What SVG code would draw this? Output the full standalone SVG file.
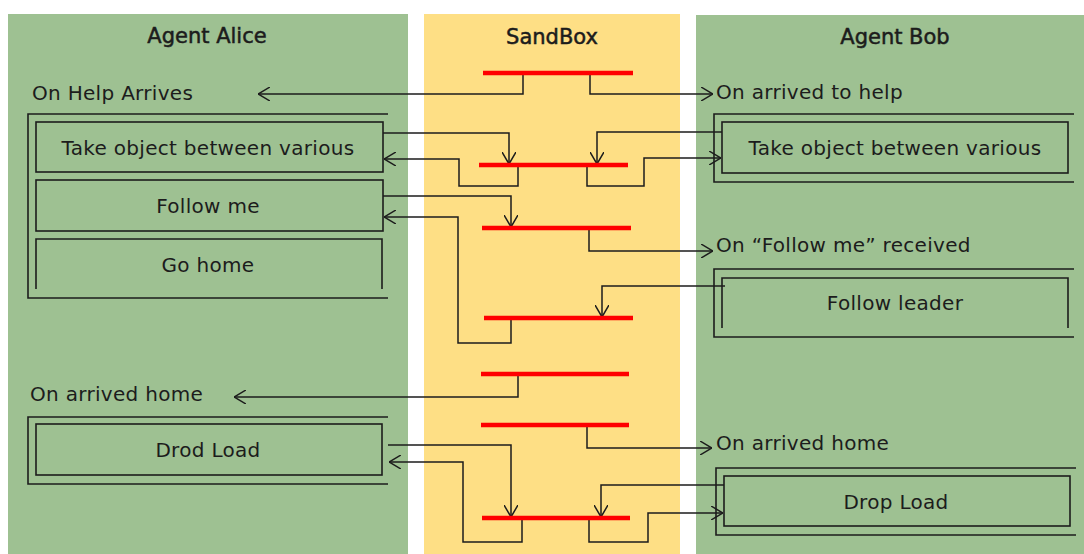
<svg xmlns="http://www.w3.org/2000/svg" width="1084" height="554" viewBox="0 0 1084 554">
<defs>
<style>
.lane{fill:#9ec192}
.sand{fill:#fedf85}
.title{font-family:"DejaVu Sans","Liberation Sans",sans-serif;font-size:21px;fill:#1c1c1c;stroke:#1c1c1c;stroke-width:0.5;text-anchor:middle}
.lbl{font-family:"DejaVu Sans","Liberation Sans",sans-serif;font-size:20px;letter-spacing:0.3px;fill:#1c1c1c}
.mid{text-anchor:middle}
.box{fill:none;stroke:#1c1c1c;stroke-width:1.6}
.bar{stroke:#ff0000;stroke-width:4.5}
.con{fill:none;stroke:#1c1c1c;stroke-width:1.5}
</style>
<marker id="arr" viewBox="0 0 12 14" refX="12" refY="7" markerWidth="12" markerHeight="14" markerUnits="userSpaceOnUse" orient="auto">
<path d="M0,0 L12,7 L0,14" fill="none" stroke="#1c1c1c" stroke-width="1.5"/>
</marker>
</defs>
<rect width="1084" height="554" fill="#ffffff"/>
<g id="lane-alice"><rect class="lane" x="8" y="14" width="400" height="540"/><text class="title" x="207" y="43">Agent Alice</text></g>
<g id="lane-sandbox"><rect class="sand" x="424" y="14" width="256" height="540"/><text class="title" x="552" y="44">SandBox</text></g>
<g id="lane-bob"><rect class="lane" x="696" y="15" width="388" height="539"/><text class="title" x="895" y="44">Agent Bob</text></g>

<g id="alice-help"><text class="lbl" x="32" y="100">On Help Arrives</text>
<path class="box" d="M388,114 H28 V298 H388"/></g>
<g id="alice-take"><rect class="box" x="36" y="122" width="347" height="50"/><text class="lbl mid" x="208" y="155">Take object between various</text></g>
<g id="alice-follow"><rect class="box" x="36" y="180" width="347" height="51"/><text class="lbl mid" x="208" y="213">Follow me</text></g>
<g id="alice-gohome"><path class="box" d="M36,289 V239 H382 V289"/><text class="lbl mid" x="208" y="272">Go home</text></g>
<g id="alice-home"><text class="lbl" x="30" y="401">On arrived home</text>
<path class="box" d="M388,417 H28 V484 H388"/></g>
<g id="alice-drop"><rect class="box" x="36" y="424" width="346" height="51"/><text class="lbl mid" x="208" y="457">Drod Load</text></g>

<g id="bob-help"><text class="lbl" x="716" y="99">On arrived to help</text>
<path class="box" d="M1074,114 H714 V182 H1074"/></g>
<g id="bob-take"><rect class="box" x="722" y="122" width="346" height="51"/><text class="lbl mid" x="895" y="155">Take object between various</text></g>
<g id="bob-follow"><text class="lbl" x="716" y="252">On “Follow me” received</text>
<path class="box" d="M1074,269 H714 V337 H1074"/></g>
<g id="bob-leader"><path class="box" d="M722,328 V278 H1068 V328"/><text class="lbl mid" x="895" y="310">Follow leader</text></g>
<g id="bob-home"><text class="lbl" x="716" y="450">On arrived home</text>
<path class="box" d="M1076,468 H716 V535 H1076"/></g>
<g id="bob-drop"><rect class="box" x="724" y="476" width="346" height="50"/><text class="lbl mid" x="896" y="509">Drop Load</text></g>

<g id="connectors">
<path class="con" marker-end="url(#arr)" d="M523,73 V94 H258"/>
<path class="con" marker-end="url(#arr)" d="M590,73 V94 H713"/>
<path class="con" marker-end="url(#arr)" d="M383,133 H509 V164"/>
<path class="con" marker-end="url(#arr)" d="M518,165 V186 H459 V159 H384"/>
<path class="con" marker-end="url(#arr)" d="M722,132 H597 V164"/>
<path class="con" marker-end="url(#arr)" d="M587,165 V186 H644 V158 H721"/>
<path class="con" marker-end="url(#arr)" d="M383,196 H511 V227"/>
<path class="con" marker-end="url(#arr)" d="M511,318 V343 H458 V217 H384"/>
<path class="con" marker-end="url(#arr)" d="M589,228 V251 H713"/>
<path class="con" marker-end="url(#arr)" d="M725,286 H602 V317"/>
<path class="con" marker-end="url(#arr)" d="M518,374 V397 H234"/>
<path class="con" marker-end="url(#arr)" d="M587,425 V448 H712"/>
<path class="con" marker-end="url(#arr)" d="M388,445 H511 V517"/>
<path class="con" marker-end="url(#arr)" d="M522,518 V542 H463 V462 H389"/>
<path class="con" marker-end="url(#arr)" d="M724,485 H601 V517"/>
<path class="con" marker-end="url(#arr)" d="M589,518 V542 H648 V513 H723"/>
</g>
<g id="sandbox-bars">
<line class="bar" x1="483" y1="73" x2="633" y2="73"/>
<line class="bar" x1="479" y1="165" x2="628" y2="165"/>
<line class="bar" x1="482" y1="228" x2="631" y2="228"/>
<line class="bar" x1="484" y1="318" x2="633" y2="318"/>
<line class="bar" x1="481" y1="374" x2="629" y2="374"/>
<line class="bar" x1="481" y1="425" x2="629" y2="425"/>
<line class="bar" x1="482" y1="518" x2="630" y2="518"/>
</g>
</svg>
